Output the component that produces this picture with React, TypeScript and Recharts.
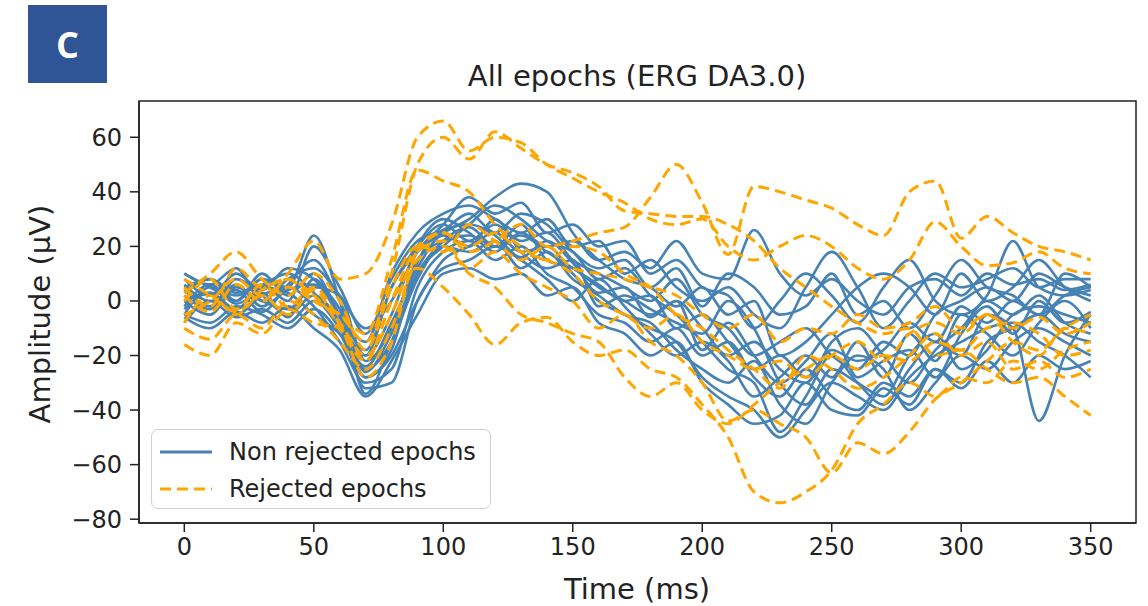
import { Legend, Line, LineChart, ReferenceArea, XAxis, YAxis } from 'recharts'

// time axis, ms (one sample every 10 ms)
const TIME = [
  0, 10, 20, 30, 40, 50, 60, 70, 80, 90, 100, 110,
  120, 130, 140, 150, 160, 170, 180, 190, 200, 210, 220, 230,
  240, 250, 260, 270, 280, 290, 300, 310, 320, 330, 340, 350,
]

const X_TICKS = [0, 50, 100, 150, 200, 250, 300, 350]
const Y_TICKS = [-80, -60, -40, -20, 0, 20, 40, 60]

// non rejected epochs (µV)
const b01 = [5, 8, 3, 6, 10, 3, -8, -20, 5, 18, 25, 30, 38, 43, 40, 25, 15, 18, 12, 22, 10, 8, 26, 10, 2, 8, 0, -5, 5, 8, 2, 10, 6, 8, 4, 6]
const b02 = [10, 5, 0, 8, 5, 24, 0, -34, -15, 10, 20, 28, 35, 30, 22, 18, 8, 12, 2, -5, -15, -25, -30, -48, -35, -20, -30, -38, -25, -15, -20, -5, -10, -44, -20, -5]
const b03 = [-5, -8, -2, -5, -10, -3, -12, -28, -20, 0, 15, 20, 25, 18, 20, 10, 0, -5, -10, -15, -28, -35, -40, -50, -40, -30, -35, -40, -28, -20, -15, -10, -8, -15, -20, -28]
const b04 = [8, 2, 10, 4, 12, 8, -5, -15, 10, 25, 32, 35, 30, 25, 30, 20, 22, 10, 15, 5, 0, 5, -5, -10, 5, 18, 5, -10, 0, 10, 5, 8, 12, 5, 8, 8]
const b05 = [0, -5, 5, 0, -3, 5, 2, -22, -10, 15, 22, 24, 20, 28, 15, 12, 5, 0, -5, 0, -10, -20, -15, -25, -30, -15, -10, -20, -30, -18, -10, 0, -5, 2, -8, -12]
const b06 = [-3, 3, -5, 2, 5, -2, -15, -30, -25, 5, 18, 22, 15, 20, 10, 5, -5, -8, -15, -10, -20, -15, -28, -35, -25, -35, -40, -30, -35, -25, -30, -15, -10, -5, -12, -15]
const b07 = [3, 8, 0, 10, 2, 10, -5, -18, 5, 20, 28, 22, 28, 22, 25, 15, 10, 5, 0, 8, -5, -10, -20, -15, -10, -20, -25, -15, -20, -5, 0, 5, 0, 10, 5, 2]
const b08 = [-8, 0, -6, -3, -8, 0, -10, -25, -15, 8, 20, 18, 22, 12, 18, 8, 2, -5, -8, -18, -25, -30, -22, -38, -45, -30, -20, -25, -40, -30, -20, -25, -15, -10, -15, -20]
const b09 = [6, 0, 4, -4, 6, 15, 0, -20, -5, 20, 30, 25, 18, 25, 20, 22, 15, 8, 5, -2, 5, -5, 0, -20, -15, -5, 5, 10, 5, -5, 10, 0, 5, 15, 5, 0]
const b10 = [2, -3, 8, 2, -5, 2, -8, -32, -30, 0, 12, 15, 20, 15, 8, 0, 8, -2, -12, -20, -15, -22, -35, -28, -20, -28, -15, -28, -12, -22, -5, -12, -20, -8, 0, -10]
const b11 = [-5, 5, 2, 6, 0, 20, 5, -12, 8, 22, 26, 32, 25, 32, 28, 18, 12, 15, 5, 12, -2, 10, 5, -5, -2, 10, -5, 0, -10, 2, 15, 5, 2, -5, 10, 5]
const b12 = [0, 3, -3, 5, 3, -5, -12, -24, -8, 12, 24, 20, 30, 18, 12, 15, -2, 2, -3, -8, -12, 0, -10, -30, -38, -25, -30, -35, -20, -12, -25, -18, -5, -2, -5, -8]
const b13 = [10, 6, 12, 0, 8, 12, 2, -10, 0, 18, 28, 38, 32, 36, 25, 28, 20, 22, 10, 15, 5, 2, -10, 0, 10, 2, -8, 5, 15, 0, -5, 2, 22, 5, 2, 4]
const b14 = [-6, -10, -4, -8, -2, -10, -18, -35, -22, -5, 10, 12, 8, 10, 2, 5, -8, -12, -20, -15, -30, -38, -45, -42, -30, -40, -42, -32, -38, -25, -32, -22, -30, -20, -25, -22]
const b15 = [4, -2, 6, -2, 4, 6, -3, -26, -12, 10, 22, 27, 20, 24, 18, 12, 6, 0, 2, -10, -5, -15, -25, -20, -28, -18, -22, -18, -8, -15, -2, -8, 0, -5, 2, 5]
const b16 = [-2, 6, -1, 3, -6, 8, -6, -28, -18, 14, 26, 28, 24, 16, 22, 14, 3, 5, -6, 0, -18, -8, -20, -30, -22, -12, -28, -22, -18, -28, -12, -2, -12, 0, -8, -4]

// rejected epochs (µV)
const r01 = [2, -4, 6, 0, 10, 22, 8, 10, 28, 60, 66, 55, 60, 58, 50, 45, 40, 36, 30, 28, 30, 20, 15, 20, 24, 20, 12, 8, 15, 29, 20, 13, 14, 18, 12, 10]
const r02 = [-5, 0, 8, 2, 5, 0, -5, -15, 10, 50, 60, 52, 62, 56, 50, 47, 42, 33, 32, 31, 31, 28, 22, 12, 5, -2, -8, -12, -10, -20, -18, -25, -30, -28, -35, -42]
const r03 = [-8, 2, -5, 4, 8, 0, -5, -12, 15, 48, 44, 40, 28, 20, 15, 20, 18, 10, 5, -5, -10, -18, -25, -32, -20, -25, -32, -28, -20, -12, -20, -15, -25, -22, -28, -25]
const r04 = [8, 2, -4, 2, -5, 4, -10, -22, 0, 20, 25, 18, 22, 28, 20, 22, 25, 27, 38, 50, 36, 17, 42, 40, 37, 34, 28, 24, 40, 44, 23, 31, 25, 20, 18, 15]
const r05 = [-16, -20, -8, -12, -3, -8, -10, -22, 0, 12, 5, -5, -16, -8, -6, -15, -20, -18, -25, -28, -38, -50, -70, -74, -70, -62, -45, -38, -30, -35, -28, -30, -22, -25, -18, -15]
const r06 = [5, -2, 12, 5, 8, 2, -8, -20, -5, 18, 22, 12, 18, 10, 5, 0, -10, -5, -15, -20, -30, -44, -40, -45, -50, -63, -52, -56, -48, -36, -30, -22, -15, -18, -10, -5]
const r07 = [-10, -14, -5, -10, 0, -5, -15, -25, -10, 15, 20, 10, 5, -5, -8, -12, -15, -28, -35, -30, -40, -45, -38, -30, -25, -20, -25, -20, -22, -15, -18, -10, -8, -12, -20, -18]
const r08 = [0, 8, -3, 6, -2, 5, -8, -28, -15, 18, 25, 20, 25, 18, 15, 10, 0, -5, -10, -5, -15, -20, -25, -22, -28, -20, -15, -22, -12, -8, -12, -5, -10, -6, -12, -8]
const r09 = [3, 10, 18, 8, 2, 10, 0, -18, 5, 20, 18, 28, 22, 15, 20, 12, 10, 8, 5, 2, -5, -10, -5, -15, -10, -12, -5, -10, -8, -2, -10, -5, -15, -20, -10, -12]

const NON_REJECTED = [b01, b02, b03, b04, b05, b06, b07, b08, b09, b10, b11, b12, b13, b14, b15, b16]
const REJECTED = [r01, r02, r03, r04, r05, r06, r07, r08, r09]

const X_DOMAIN: [number, number] = [-17.5, 367.5]
const Y_DOMAIN: [number, number] = [-81.4, 73.3]

const BLUE = '#4682b4'
const ORANGE = '#ffa500'
const INK = '#222'
const FONT = '"DejaVu Sans", sans-serif'
const DASH = '11 6'

const rows = TIME.map((t, i) => {
  const row: Record<string, number> = { t }
  NON_REJECTED.forEach((s, k) => { row[`b${k}`] = s[i] })
  REJECTED.forEach((s, k) => { row[`r${k}`] = s[i] })
  return row
})

const fmt = (v: number) => (v < 0 ? `\u2212${-v}` : `${v}`)

function LegendBox() {
  return (
    <div style={{
      width: 340, height: 80, boxSizing: 'border-box', border: '1.5px solid #d0d0d0', borderRadius: 7,
      background: 'rgba(255,255,255,0.85)', fontFamily: FONT, fontSize: 24, color: INK, position: 'relative',
    }}>
      <svg width={60} height={80} style={{ position: 'absolute', left: 0, top: 0 }}>
        <line x1={8} x2={60} y1={22} y2={22} stroke={BLUE} strokeWidth={2.8} />
        <line x1={8} x2={60} y1={59} y2={59} stroke={ORANGE} strokeWidth={3} strokeDasharray={DASH} />
      </svg>
      <div style={{ position: 'absolute', left: 77, top: 8, lineHeight: '28px', whiteSpace: 'nowrap' }}>Non rejected epochs</div>
      <div style={{ position: 'absolute', left: 77, top: 45, lineHeight: '28px', whiteSpace: 'nowrap' }}>Rejected epochs</div>
    </div>
  )
}

export default function App() {
  return (
    <div style={{ position: 'absolute', left: 0, top: 0, width: 1148, height: 606, background: '#fff', fontFamily: FONT }}>
      <LineChart width={1148} height={606} data={rows} margin={{ top: 101, right: 12, bottom: 0, left: 0 }}>
        <XAxis
          type="number" dataKey="t" domain={X_DOMAIN} ticks={X_TICKS} allowDataOverflow height={83}
          tickSize={9} tickMargin={6}
          tick={{ fill: INK, fontSize: 24, fontFamily: FONT }}
          axisLine={{ stroke: INK, strokeWidth: 1.5 }} tickLine={{ stroke: INK, strokeWidth: 1.5 }}
        />
        <YAxis
          type="number" domain={Y_DOMAIN} ticks={Y_TICKS} allowDataOverflow width={139}
          tickSize={9} tickMargin={8} tickFormatter={fmt}
          tick={{ fill: INK, fontSize: 24, fontFamily: FONT }}
          axisLine={{ stroke: INK, strokeWidth: 1.5 }} tickLine={{ stroke: INK, strokeWidth: 1.5 }}
        />
        <ReferenceArea x1={X_DOMAIN[0]} x2={X_DOMAIN[1]} y1={Y_DOMAIN[0]} y2={Y_DOMAIN[1]} fill="none" stroke={INK} strokeWidth={1.5} />
        {NON_REJECTED.map((_, k) => (
          <Line key={`b${k}`} type="monotone" dataKey={`b${k}`} stroke={BLUE} strokeWidth={2.6}
            dot={false} activeDot={false} isAnimationActive={false} legendType="none" />
        ))}
        {REJECTED.map((_, k) => (
          <Line key={`r${k}`} type="monotone" dataKey={`r${k}`} stroke={ORANGE} strokeWidth={3} strokeDasharray={DASH}
            dot={false} activeDot={false} isAnimationActive={false} legendType="none" />
        ))}
        <Legend layout="vertical" align="center" verticalAlign="middle" content={() => <LegendBox />}
          wrapperStyle={{ left: 151, top: 429, width: 340, height: 80 }} />
      </LineChart>

      {/* panel letter */}
      <div style={{
        position: 'absolute', left: 28, top: 5, width: 79, height: 78, background: '#2f5597', color: '#fff',
        fontFamily: '"Open Sans", sans-serif', fontWeight: 700, fontSize: 36, display: 'flex', alignItems: 'center', justifyContent: 'center',
      }}>C</div>

      <div style={{ position: 'absolute', left: 637, top: 76, transform: 'translate(-50%,-50%)', fontSize: 29, lineHeight: 1, color: INK, whiteSpace: 'nowrap' }}>
        All epochs (ERG DA3.0)
      </div>
      <div style={{ position: 'absolute', left: 637, top: 589, transform: 'translate(-50%,-50%)', fontSize: 29, lineHeight: 1, color: INK, whiteSpace: 'nowrap' }}>
        Time (ms)
      </div>
      <div style={{ position: 'absolute', left: 40, top: 314, transform: 'translate(-50%,-50%) rotate(-90deg)', fontSize: 29, lineHeight: 1, color: INK, whiteSpace: 'nowrap' }}>
        Amplitude (µV)
      </div>
    </div>
  )
}
